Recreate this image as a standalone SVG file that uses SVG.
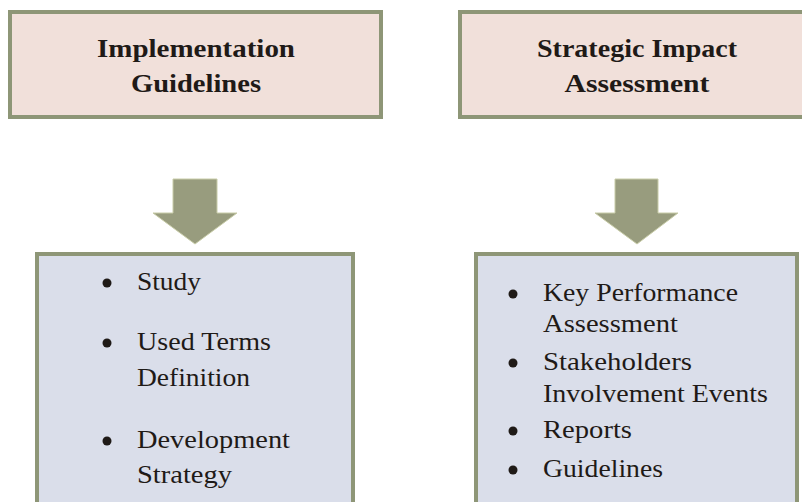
<svg xmlns="http://www.w3.org/2000/svg" width="802" height="502" viewBox="0 0 802 502">
<style>
.top{fill:#f1e0da;stroke:#8e9677;stroke-width:4}
.bot{fill:#dadeea;stroke:#8e9677;stroke-width:4}
.arrow{fill:#989c7e;stroke:#c8cca8;stroke-width:1}
.title{font-family:"Liberation Serif",serif;font-weight:bold;font-size:26px;fill:#1f1a17;text-anchor:middle}
.item{font-family:"Liberation Serif",serif;font-size:26px;fill:#1f1a17}
.dot{fill:#1f1a17}
</style>
<rect width="802" height="502" fill="#ffffff"/>
<g id="impl-guidelines">
<rect class="top" x="10" y="12" width="371" height="105"/>
<text class="title" x="196" y="57" textLength="198" lengthAdjust="spacingAndGlyphs">Implementation</text>
<text class="title" x="196" y="92" textLength="130" lengthAdjust="spacingAndGlyphs">Guidelines</text>
</g>
<g id="strategic-impact">
<rect class="top" x="460" y="12" width="380" height="105"/>
<text class="title" x="637" y="57" textLength="200" lengthAdjust="spacingAndGlyphs">Strategic Impact</text>
<text class="title" x="637" y="92" textLength="145" lengthAdjust="spacingAndGlyphs">Assessment</text>
</g>
<g id="connectors">
<polygon class="arrow" points="173,179 217,179 217,213 237,213 195,244 153,213 173,213"/>
<polygon class="arrow" points="615,179 658,179 658,213 678,213 637,244 595,213 615,213"/>
</g>
<g id="impl-list">
<rect class="bot" x="37" y="254" width="316" height="300"/>
<circle class="dot" cx="107" cy="283" r="4.5"/>
<text class="item" x="137" y="290" textLength="64" lengthAdjust="spacingAndGlyphs">Study</text>
<circle class="dot" cx="107" cy="343" r="4.5"/>
<text class="item" x="137" y="350" textLength="134" lengthAdjust="spacingAndGlyphs">Used Terms</text>
<text class="item" x="137" y="386" textLength="113" lengthAdjust="spacingAndGlyphs">Definition</text>
<circle class="dot" cx="107" cy="441" r="4.5"/>
<text class="item" x="137" y="448" textLength="153" lengthAdjust="spacingAndGlyphs">Development</text>
<text class="item" x="137" y="483" textLength="95" lengthAdjust="spacingAndGlyphs">Strategy</text>
</g>
<g id="strategic-list">
<rect class="bot" x="476" y="254" width="321" height="300"/>
<circle class="dot" cx="513" cy="294" r="4.5"/>
<text class="item" x="543" y="301" textLength="195" lengthAdjust="spacingAndGlyphs">Key Performance</text>
<text class="item" x="543" y="332" textLength="135" lengthAdjust="spacingAndGlyphs">Assessment</text>
<circle class="dot" cx="513" cy="363" r="4.5"/>
<text class="item" x="543" y="370" textLength="149" lengthAdjust="spacingAndGlyphs">Stakeholders</text>
<text class="item" x="543" y="402" textLength="225" lengthAdjust="spacingAndGlyphs">Involvement Events</text>
<circle class="dot" cx="513" cy="431" r="4.5"/>
<text class="item" x="543" y="438" textLength="89" lengthAdjust="spacingAndGlyphs">Reports</text>
<circle class="dot" cx="513" cy="470" r="4.5"/>
<text class="item" x="543" y="477" textLength="120" lengthAdjust="spacingAndGlyphs">Guidelines</text>
</g>
</svg>
